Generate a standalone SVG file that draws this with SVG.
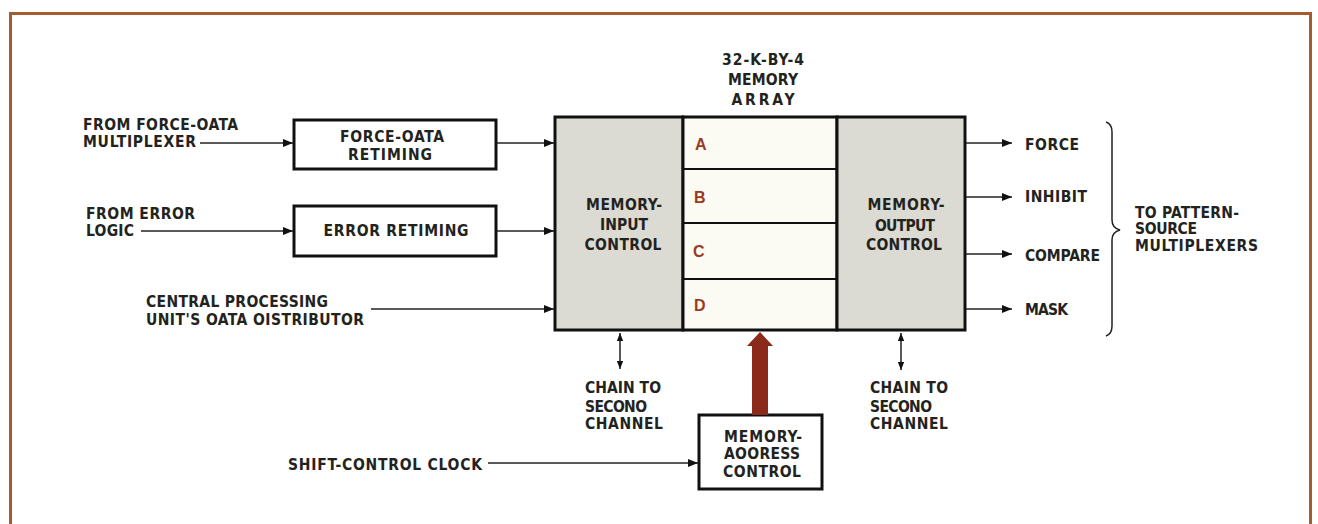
<svg xmlns="http://www.w3.org/2000/svg" width="1318" height="524" viewBox="0 0 1318 524">
<defs>
<style>
.t{font-family:"Liberation Sans Narrow","DejaVu Sans Condensed","Liberation Sans",sans-serif;font-weight:bold;font-size:15.5px;fill:#23231e}
.m{text-anchor:middle}
.l{font-family:"Liberation Sans","DejaVu Sans",sans-serif;font-weight:bold;font-size:16px;fill:#9a3a22}
.box{fill:#ffffff;stroke:#111;stroke-width:3}
.gray{fill:#dcdbd3;stroke:#111;stroke-width:3}
.arr{fill:#fbfaf3;stroke:#111;stroke-width:3}
.row{stroke:#111;stroke-width:2.2}
.w{fill:none;stroke:#222;stroke-width:1.5}
.frame{fill:none;stroke:#a55a30;stroke-width:3}
</style>
<marker id="ah" viewBox="0 0 10 8" refX="10" refY="4" markerWidth="10" markerHeight="8" markerUnits="userSpaceOnUse" orient="auto">
<path d="M0,0 L10,4 L0,8 Z" fill="#111"/>
</marker>
<marker id="ahs" viewBox="0 0 10 8" refX="10" refY="4" markerWidth="8" markerHeight="7" markerUnits="userSpaceOnUse" orient="auto-start-reverse">
<path d="M0,0 L10,4 L0,8 Z" fill="#111"/>
</marker>
</defs>
<rect width="1318" height="524" fill="#ffffff"/>
<path class="frame" d="M10.5,524 L10.5,13.5 L1310.5,13.5 L1310.5,524"/>

<g id="title">
<text class="t m" x="763" y="65" textLength="82">32-K-BY-4</text>
<text class="t m" x="763" y="85" textLength="70">MEMORY</text>
<text class="t m" x="763" y="105" textLength="63">ARRAY</text>
</g>

<g id="in-force">
<text class="t" x="83" y="130" textLength="155">FROM FORCE-OATA</text>
<text class="t" x="83" y="147" textLength="113">MULTIPLEXER</text>
</g>
<g id="in-error">
<text class="t" x="86" y="219" textLength="109">FROM ERROR</text>
<text class="t" x="86" y="236" textLength="48">LOGIC</text>
</g>
<g id="in-cpu">
<text class="t" x="146" y="307" textLength="182">CENTRAL PROCESSING</text>
<text class="t" x="146" y="325" textLength="218">UNIT'S OATA OISTRIBUTOR</text>
</g>

<g id="force-retiming">
<rect class="box" x="294" y="120" width="202" height="49"/>
<text class="t m" x="392" y="142" textLength="104">FORCE-OATA</text>
<text class="t m" x="390" y="160" textLength="84">RETIMING</text>
</g>
<g id="error-retiming">
<rect class="box" x="294" y="206" width="202" height="50"/>
<text class="t m" x="396" y="236" textLength="145">ERROR RETIMING</text>
</g>

<g id="memory-input-control">
<rect class="gray" x="555" y="117" width="128" height="213"/>
<text class="t m" x="624" y="210" textLength="76">MEMORY-</text>
<text class="t m" x="624" y="230" textLength="48">INPUT</text>
<text class="t m" x="623" y="250" textLength="77">CONTROL</text>
</g>
<g id="memory-array">
<rect class="arr" x="683" y="117" width="154" height="213"/>
<line class="row" x1="683" y1="169" x2="837" y2="169"/>
<line class="row" x1="683" y1="223" x2="837" y2="223"/>
<line class="row" x1="683" y1="279" x2="837" y2="279"/>
<text class="l" x="695" y="150">A</text>
<text class="l" x="694" y="203">B</text>
<text class="l" x="693" y="257">C</text>
<text class="l" x="694" y="311">D</text>
</g>
<g id="memory-output-control">
<rect class="gray" x="837" y="117" width="128" height="213"/>
<text class="t m" x="906" y="210" textLength="77">MEMORY-</text>
<text class="t m" x="905" y="231" textLength="60">OUTPUT</text>
<text class="t m" x="904" y="250" textLength="76">CONTROL</text>
</g>

<g id="outputs">
<text class="t" x="1025" y="150" textLength="54">FORCE</text>
<text class="t" x="1025" y="202" textLength="62">INHIBIT</text>
<text class="t" x="1025" y="261" textLength="75">COMPARE</text>
<text class="t" x="1025" y="315" textLength="43">MASK</text>
</g>
<g id="to-pattern">
<path class="w" d="M1106,122 Q1112,124 1112,132 L1112,220 Q1112,228 1120,230 Q1112,232 1112,240 L1112,326 Q1112,334 1106,336"/>
<text class="t" x="1135" y="218" textLength="104">TO PATTERN-</text>
<text class="t" x="1135" y="234" textLength="62">SOURCE</text>
<text class="t" x="1135" y="251" textLength="123">MULTIPLEXERS</text>
</g>

<g id="chain-left">
<text class="t" x="585" y="393" textLength="76">CHAIN TO</text>
<text class="t" x="585" y="412" textLength="62">SECONO</text>
<text class="t" x="585" y="429" textLength="78">CHANNEL</text>
</g>
<g id="chain-right">
<text class="t" x="870" y="393" textLength="78">CHAIN TO</text>
<text class="t" x="870" y="412" textLength="62">SECONO</text>
<text class="t" x="870" y="429" textLength="78">CHANNEL</text>
</g>

<g id="shift-clock">
<text class="t" x="288" y="470" textLength="194">SHIFT-CONTROL CLOCK</text>
</g>
<g id="memory-address-control">
<rect class="box" x="699" y="415" width="123" height="74"/>
<text class="t m" x="763" y="442" textLength="78">MEMORY-</text>
<text class="t m" x="762" y="459" textLength="76">AOORESS</text>
<text class="t m" x="762" y="477" textLength="78">CONTROL</text>
</g>

<g id="connectors">
<line class="w" x1="200" y1="143" x2="293" y2="143" marker-end="url(#ah)"/>
<line class="w" x1="141" y1="231" x2="293" y2="231" marker-end="url(#ah)"/>
<line class="w" x1="497" y1="143" x2="554" y2="143" marker-end="url(#ah)"/>
<line class="w" x1="497" y1="231" x2="554" y2="231" marker-end="url(#ah)"/>
<line class="w" x1="371" y1="309" x2="554" y2="309" marker-end="url(#ah)"/>
<line class="w" x1="966" y1="143" x2="1012" y2="143" marker-end="url(#ah)"/>
<line class="w" x1="966" y1="197" x2="1012" y2="197" marker-end="url(#ah)"/>
<line class="w" x1="966" y1="254" x2="1012" y2="254" marker-end="url(#ah)"/>
<line class="w" x1="966" y1="309" x2="1012" y2="309" marker-end="url(#ah)"/>
<line class="w" x1="620" y1="333" x2="620" y2="369" marker-start="url(#ahs)" marker-end="url(#ahs)"/>
<line class="w" x1="901" y1="333" x2="901" y2="370" marker-start="url(#ahs)" marker-end="url(#ahs)"/>
<line class="w" x1="488" y1="463" x2="698" y2="463" marker-end="url(#ah)"/>
<path d="M752,415 L752,346 L747,346 L760,332 L773,346 L768,346 L768,415 Z" fill="#8b2a1a"/>
</g>
</svg>
